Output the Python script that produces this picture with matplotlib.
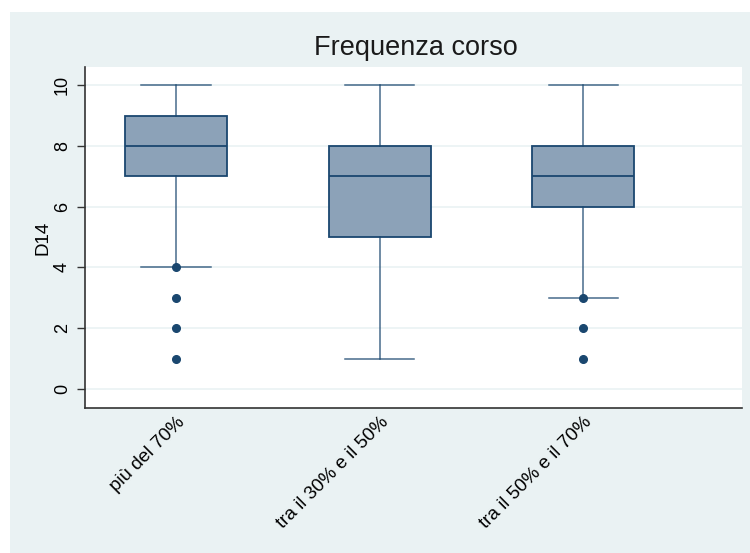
import matplotlib.pyplot as plt
from matplotlib.patches import Rectangle

# dati
gruppi = ['più del 70%', 'tra il 30% e il 50%', 'tra il 50% e il 70%']
baffo_basso = [4, 1, 3]
q1 = [7, 5, 6]
mediana = [8, 7, 7]
q3 = [9, 8, 8]
baffo_alto = [10, 10, 10]
outlier = [[1, 2, 3, 4], [], [1, 2, 3]]

blu = '#1A476F'
riemp = '#8CA2B8'
sfondo = '#EAF2F3'

plt.rcParams['font.family'] = ['Liberation Sans', 'DejaVu Sans']

fig = plt.figure(figsize=(7.5, 5.53), dpi=100, facecolor='white')
fig.patches.append(Rectangle((10 / 750, 0), 1, (553 - 12) / 553,
                             transform=fig.transFigure, facecolor=sfondo,
                             edgecolor='none', zorder=-10))
ax = fig.add_axes([85 / 750, 1 - 408 / 553, (742 - 85) / 750, (408 - 67) / 553])
ax.set_facecolor('white')

stats = []
for i, g in enumerate(gruppi):
    stats.append({'label': g, 'whislo': baffo_basso[i], 'q1': q1[i], 'med': mediana[i],
                  'q3': q3[i], 'whishi': baffo_alto[i], 'fliers': outlier[i]})

ax.bxp(stats, positions=[1, 2, 3], widths=0.5, capwidths=0.34, patch_artist=True,
       boxprops=dict(facecolor=riemp, edgecolor=blu, linewidth=1.3),
       medianprops=dict(color=blu, linewidth=1.3),
       whiskerprops=dict(color=blu, linewidth=1.1, alpha=0.8),
       capprops=dict(color=blu, linewidth=1.1, alpha=0.8),
       flierprops=dict(marker='o', markerfacecolor=blu, markeredgecolor=blu,
                       markersize=5.5))

ax.set_xlim(0.553, 3.78)
ax.set_ylim(-0.63, 10.6)
ax.set_yticks([0, 2, 4, 6, 8, 10])
ax.set_yticklabels(['0', '2', '4', '6', '8', '10'], rotation=90, va='center', fontsize=13)
ax.set_xticks([1, 2, 3])
ax.set_xticklabels(gruppi, rotation=45, ha='right', va='top',
                   rotation_mode='anchor', fontsize=13.5)
ax.tick_params(axis='x', length=0, pad=4)
ax.tick_params(axis='y', length=6, width=1, color='#333333', pad=4)
ax.grid(axis='y', color=sfondo, linewidth=1.2)
ax.set_axisbelow(True)
for s in ['top', 'right']:
    ax.spines[s].set_visible(False)
for s in ['left', 'bottom']:
    ax.spines[s].set_color('#333333')
    ax.spines[s].set_linewidth(1.2)

ax.set_ylabel('D14', fontsize=13.5, labelpad=2)
fig.text(0.555, 1 - 55 / 553, 'Frequenza corso', ha='center', va='baseline',
         fontsize=19.5, color='#1a1a1a')

plt.savefig('out.png', dpi=100, facecolor=fig.get_facecolor())
